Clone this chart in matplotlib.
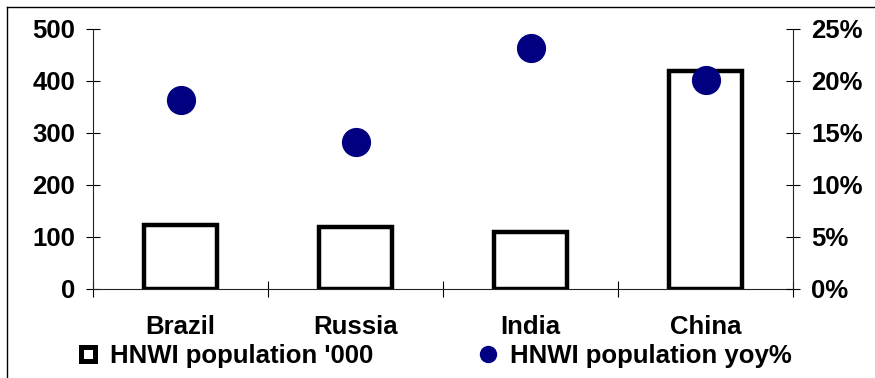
import numpy as np
import matplotlib
matplotlib.use("Agg")
import matplotlib.pyplot as plt
from matplotlib.lines import Line2D

plt.rcParams['font.family'] = ['Liberation Sans', 'DejaVu Sans']
plt.rcParams['font.weight'] = 'bold'

countries = ["Brazil", "Russia", "India", "China"]
hnwi_pop = [123, 119, 110, 419]          # '000
hnwi_yoy = [18.2, 14.1, 23.2, 20.1]      # %

fs = 18.5

fig = plt.figure(figsize=(8.75, 3.78), dpi=100)
ax = fig.add_axes([93/875, 89/378, 700/875, 260/378])
ax2 = ax.twinx()

x = np.arange(len(countries))
ax.bar(x, hnwi_pop, width=0.42, color="white", edgecolor="black", linewidth=3.2, zorder=2)
ax2.plot(x, hnwi_yoy, "o", color="#000080", markersize=20, zorder=3)

ax.set_xlim(-0.5, 3.5)
ax.set_ylim(0, 500)
ax2.set_ylim(0, 25)

ax.set_yticks(np.arange(0, 501, 100))
ax2.set_yticks(np.arange(0, 26, 5))
ax2.set_yticklabels([f"{v}%" for v in range(0, 26, 5)])

# category boundaries as major ticks, labels as minor ticks
ax.set_xticks(np.arange(-0.5, 4, 1))
ax.set_xticklabels([])
ax.set_xticks(x, minor=True)
ax.set_xticklabels(countries, minor=True)
ax.tick_params(axis="x", which="major", direction="inout", length=12, width=0.8)
ax.tick_params(axis="x", which="minor", length=0, pad=19, labelsize=fs)
ax.tick_params(axis="y", direction="inout", length=10, width=0.8, pad=8, labelsize=fs)
ax2.tick_params(axis="y", direction="inout", length=10, width=0.8, pad=8, labelsize=fs)

for a in (ax, ax2):
    a.spines["top"].set_visible(False)
    for s in a.spines.values():
        s.set_linewidth(0.8)
        s.set_color("#222222")
ax2.spines["left"].set_visible(False)
ax.spines["right"].set_visible(False)
ax2.spines["bottom"].set_visible(False)

# legend
handles = [
    Line2D([], [], marker="s", linestyle="none", markersize=10.5, markerfacecolor="white",
           markeredgecolor="black", markeredgewidth=3.6),
    Line2D([], [], marker="o", linestyle="none", markersize=11.5, color="#000080"),
]
fig.legend(handles, ["HNWI population '000", "HNWI population yoy%"], ncol=2,
           loc="center", bbox_to_anchor=(0.4954, 0.058), frameon=False,
           fontsize=fs, handletextpad=0.35, columnspacing=4.0, handlelength=1.0,
           borderpad=0, borderaxespad=0)

# outer frame (top and left edges visible)
fig.add_artist(Line2D([7/875, 1.01], [1 - 7/378, 1 - 7/378], transform=fig.transFigure,
                      color="black", linewidth=1.0))
fig.add_artist(Line2D([7/875, 7/875], [-0.01, 1 - 7/378], transform=fig.transFigure,
                      color="black", linewidth=1.0))

fig.savefig("out.png", dpi=100)
